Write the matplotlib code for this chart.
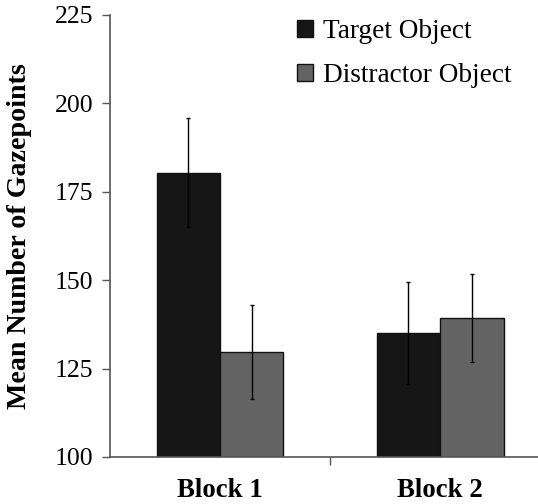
import matplotlib
matplotlib.use("Agg")
import matplotlib.pyplot as plt
import numpy as np

# ── Data ──────────────────────────────────────────────────────────────────────
blocks = ["Block 1", "Block 2"]
series = ["Target Object", "Distractor Object"]
target_means = [180.4, 135.1]
target_err = [15.4, 14.5]
distractor_means = [129.7, 139.3]
distractor_err = [13.2, 12.5]
yticks = [100, 125, 150, 175, 200, 225]

colors = ["#161616", "#636363"]

plt.rcParams["font.family"] = ["Liberation Serif", "DejaVu Serif"]

fig = plt.figure(figsize=(5.38, 5.04), dpi=100)
ax = fig.add_axes([0.2045, 0.0933, 0.81, 0.877])

x = np.arange(len(blocks))
w = 0.288

ax.bar(x - w / 2, target_means, w, color=colors[0], edgecolor="#111111",
       linewidth=1, label=series[0], zorder=2)
ax.bar(x + w / 2, distractor_means, w, color=colors[1], edgecolor="#111111",
       linewidth=1, label=series[1], zorder=2)
ax.errorbar(x - w / 2, target_means, yerr=target_err, fmt="none",
            ecolor="black", elinewidth=1, capsize=1.5, capthick=1, zorder=3)
ax.errorbar(x + w / 2, distractor_means, yerr=distractor_err, fmt="none",
            ecolor="black", elinewidth=1, capsize=1.5, capthick=1, zorder=3)

ax.set_ylim(100, 225)
ax.set_xlim(-0.5, 1.48)
ax.set_yticks(yticks)
ax.set_yticklabels([str(t) for t in yticks], fontsize=18.5)

# category boundaries as x ticks, names centred below
ax.set_xticks([0.5])
ax.set_xticklabels([""])
ax.set_xticks(x, minor=True)
ax.set_xticklabels(blocks, minor=True, fontsize=19.3, fontweight="bold")
ax.tick_params(axis="x", which="minor", length=0, pad=15)
ax.tick_params(axis="x", which="major", length=6, width=1, color="#555555")
ax.tick_params(axis="y", length=6, width=1, color="#555555", pad=6)

for s in ("top", "right"):
    ax.spines[s].set_visible(False)
for s in ("left", "bottom"):
    ax.spines[s].set_color("#555555")
    ax.spines[s].set_linewidth(1.2)

ax.set_ylabel("Mean Number of Gazepoints", fontsize=20.2, fontweight="bold")
ax.yaxis.set_label_coords(-0.179, 0.5)

leg = ax.legend(loc="upper left", bbox_to_anchor=(0.429, 0.991), frameon=False,
                fontsize=19.6, handlelength=0.58, handleheight=0.58,
                handletextpad=0.36, labelspacing=0.7, borderaxespad=0,
                borderpad=0)

fig.savefig("out.png", dpi=100)
